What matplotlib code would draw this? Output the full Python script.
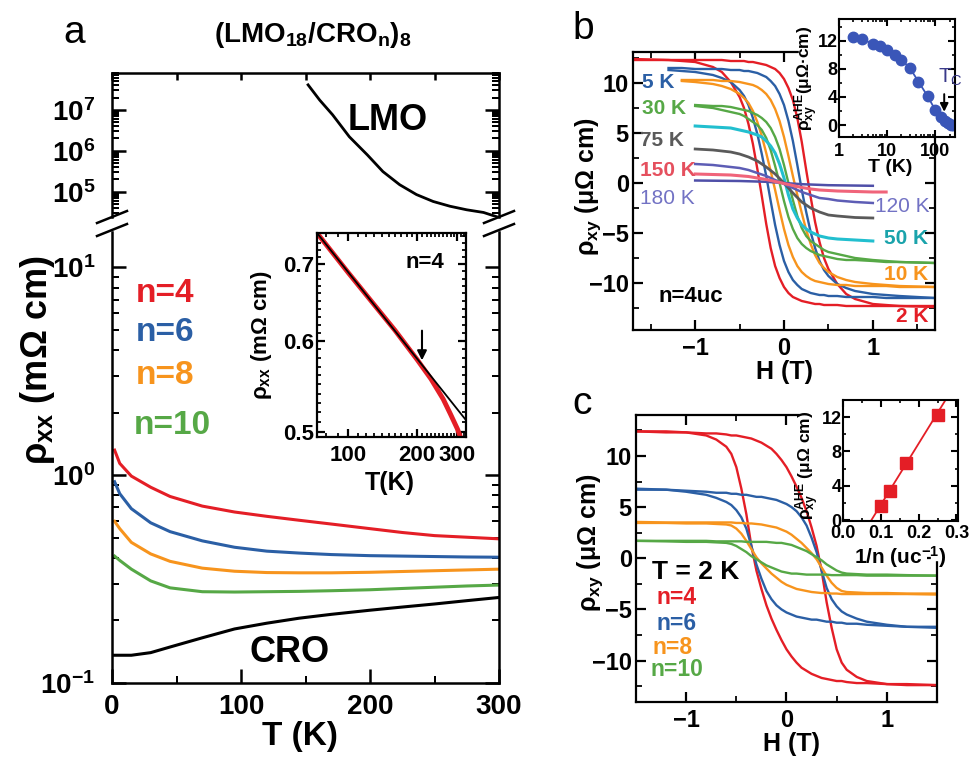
import numpy as np
import matplotlib
matplotlib.use("Agg")
import matplotlib.pyplot as plt
from matplotlib.patches import Rectangle
from matplotlib.lines import Line2D
from matplotlib.ticker import MultipleLocator, FixedLocator, FixedFormatter, NullFormatter, FormatStrFormatter

plt.rcParams['font.family'] = ['Liberation Sans', 'DejaVu Sans']
plt.rcParams['font.weight'] = 'bold'
plt.rcParams['mathtext.fontset'] = 'custom'
plt.rcParams['mathtext.rm'] = 'Liberation Sans:bold'
plt.rcParams['mathtext.it'] = 'Liberation Sans:italic:bold'
plt.rcParams['mathtext.bf'] = 'Liberation Sans:bold'
plt.rcParams['mathtext.default'] = 'regular'
plt.rcParams['xtick.direction'] = 'in'
plt.rcParams['ytick.direction'] = 'in'

RED = '#e41e26'
BLUE = '#2b5fa5'
ORANGE = '#f7941d'
GREEN = '#56a846'
CYAN = '#22bfcf'
GRAY = '#5a5a5a'
SLATE = '#5d5db5'
PINK = '#f0647a'
PURPLE = '#4f4fa8'

# ---- panel a : rho_xx(T)
T_a = [2, 6, 15, 30, 45, 70, 95, 120, 145, 170, 200, 225, 250, 275, 300]
rho_n4 = [1.32, 1.14, 0.99, 0.875, 0.79, 0.71, 0.665, 0.634, 0.607, 0.582, 0.553, 0.53, 0.512, 0.503, 0.494]
rho_n6 = [0.93, 0.815, 0.69, 0.59, 0.535, 0.483, 0.45, 0.431, 0.422, 0.415, 0.41, 0.408, 0.406, 0.404, 0.403]
rho_n8 = [0.60, 0.553, 0.475, 0.418, 0.385, 0.357, 0.345, 0.34, 0.339, 0.339, 0.341, 0.344, 0.347, 0.35, 0.353]
rho_n10 = [0.408, 0.389, 0.353, 0.31, 0.287, 0.275, 0.274, 0.275, 0.276, 0.278, 0.281, 0.285, 0.289, 0.293, 0.296]
rho_cro = [0.136, 0.136, 0.136, 0.14, 0.149, 0.165, 0.182, 0.194, 0.205, 0.214, 0.224, 0.232, 0.24, 0.249, 0.258]
T_lmo = [152, 161, 171, 184, 198, 210, 223, 236, 249, 262, 275, 288, 298]
rho_lmo = [4.1e7, 1.74e7, 7.6e6, 2.2e6, 7.9e5, 3.1e5, 1.48e5, 8.5e4, 5.75e4, 4.4e4, 3.6e4, 3.1e4, 2.45e4]

# inset a (n=4, log-log)
T_in = [73, 100, 130, 160, 200, 230, 260, 280, 300, 308]
rho_in = [0.745, 0.688, 0.645, 0.613, 0.578, 0.556, 0.534, 0.518, 0.503, 0.496]
fit_T = [73, 327]
fit_rho = [0.745, 0.512]
arrow_a = (210, 0.616, 0.574)

# ---- panel b : rho_xy(H), n=4, down-sweep branches of the loops
H_b = [-1.7, -1.3, -1.15, -1.0, -0.8, -0.7, -0.6, -0.5, -0.45, -0.4, -0.35, -0.3, -0.25, -0.2,
       -0.15, -0.1, -0.05, 0.0, 0.05, 0.1, 0.15, 0.2, 0.25, 0.3, 0.35, 0.4, 0.45, 0.5, 0.6, 0.7,
       0.8, 1.0, 1.15, 1.3, 1.7]
down_2K = [12.4, 12.3, 12.2, 12.1, 11.6, 11.1, 10.1, 8.6, 7.5, 5.9, 3.9, 1.4, -1.3, -4.1, -6.5,
           -8.3, -9.5, -10.4, -11.0, -11.4, -11.6, -11.8, -11.9, -12.0, -12.1, -12.1, -12.2, -12.2,
           -12.2, -12.3, -12.3, -12.3, -12.3, -12.3, -12.3]
down_5K = [11.5, 11.3, 11.2, 11.1, 10.8, 10.5, 10.1, 9.3, 8.7, 7.8, 6.5, 4.9, 2.9, 0.7, -1.8,
           -4.2, -6.2, -7.8, -8.9, -9.7, -10.2, -10.6, -10.8, -11.0, -11.1, -11.2, -11.2, -11.3,
           -11.3, -11.4, -11.4, -11.4, -11.5, -11.5, -11.5]
down_10K = [10.4, 10.3, 10.2, 10.1, 9.9, 9.7, 9.4, 8.9, 8.5, 8.0, 7.2, 6.1, 4.7, 3.0, 1.2,
            -0.7, -2.7, -4.6, -6.2, -7.4, -8.3, -8.9, -9.3, -9.6, -9.8, -9.9, -10.0, -10.1,
            -10.2, -10.2, -10.3, -10.3, -10.3, -10.4, -10.4]
down_30K = [8.0, 7.9, 7.8, 7.7, 7.5, 7.3, 7.1, 6.9, 6.7, 6.4, 6.1, 5.8, 5.3, 4.5, 3.3,
            1.7, 0.0, -1.8, -3.4, -4.6, -5.5, -6.1, -6.5, -6.8, -7.0, -7.2, -7.3, -7.4,
            -7.6, -7.7, -7.7, -7.8, -7.9, -7.9, -8.0]
hmin_b = {'2K': -1.7, '5K': -1.3, '10K': -1.15, '30K': -1.0}

H_50K = [-1.0, -0.8, -0.6, -0.5, -0.4, -0.3, -0.25, -0.2, -0.15, -0.1, -0.05, 0.0, 0.05, 0.1,
         0.15, 0.2, 0.25, 0.3, 0.35, 0.4, 0.5, 0.6, 0.8, 1.0]
rho_50K = [5.7, 5.6, 5.5, 5.3, 5.1, 4.8, 4.6, 4.2, 3.7, 3.0, 1.9, 0.5, -1.2, -2.6,
           -3.5, -4.2, -4.6, -4.9, -5.1, -5.3, -5.5, -5.6, -5.7, -5.8]
H_hi = [-1.0, -0.8, -0.6, -0.5, -0.4, -0.3, -0.2, -0.1, 0.0, 0.1, 0.2, 0.3, 0.4, 0.5, 0.6, 0.8, 1.0]
rho_75K = [3.4, 3.3, 3.1, 2.9, 2.6, 2.2, 1.6, 0.9, 0.0, -1.0, -1.9, -2.5, -2.9, -3.2, -3.3, -3.45, -3.5]
rho_120K = [1.9, 1.8, 1.6, 1.5, 1.3, 1.0, 0.7, 0.3, -0.1, -0.5, -0.9, -1.2, -1.5, -1.6, -1.75, -1.9, -2.0]
H_150K = [-1.0, -0.8, -0.6, -0.4, -0.3, -0.2, -0.1, 0.0, 0.1, 0.2, 0.3, 0.4, 0.6, 0.8, 1.0, 1.15]
rho_150K = [0.9, 0.85, 0.8, 0.65, 0.5, 0.35, 0.15, -0.05, -0.25, -0.45, -0.6, -0.7, -0.8, -0.85, -0.9, -0.9]
H_180K = [-1.0, -0.5, -0.2, 0.0, 0.2, 0.5, 1.0]
rho_180K = [0.25, 0.2, 0.12, 0.0, -0.12, -0.22, -0.28]

# inset b : AHE vs T
T_ahe = [2, 3, 5, 7, 10, 15, 20, 30, 45, 70, 100, 130, 160, 185, 210, 235]
rho_ahe = [12.6, 12.2, 11.6, 11.2, 10.7, 10.0, 9.3, 8.1, 6.2, 4.1, 2.2, 1.2, 0.6, 0.25, 0.05, 0.0]
arrow_b = (155, 4.8, 1.5)

# ---- panel c : rho_xy(H) at 2 K, down-sweep branches
H_c = [-1.5, -1.2, -1.0, -0.8, -0.7, -0.6, -0.55, -0.5, -0.45, -0.4, -0.35, -0.3, -0.25, -0.2,
       -0.15, -0.1, -0.05, 0.0, 0.05, 0.1, 0.15, 0.2, 0.25, 0.3, 0.35, 0.4, 0.45, 0.5, 0.55, 0.6,
       0.7, 0.8, 1.0, 1.2, 1.5]
down_n4 = [12.4, 12.4, 12.3, 12.0, 11.6, 10.9, 10.2, 8.9, 6.8, 4.3, 1.2, -1.2, -3.0, -4.6, -5.9,
           -7.0, -8.0, -8.9, -9.6, -10.2, -10.7, -11.0, -11.3, -11.5, -11.7, -11.8, -11.9, -12.0,
           -12.0, -12.1, -12.2, -12.2, -12.3, -12.3, -12.4]
down_n6 = [6.8, 6.7, 6.5, 6.2, 5.9, 5.5, 5.2, 4.7, 4.0, 2.9, 1.2, -0.6, -2.0, -3.2, -4.0,
           -4.6, -5.0, -5.3, -5.5, -5.7, -5.8, -5.9, -6.0, -6.0, -6.1, -6.2, -6.2, -6.3,
           -6.3, -6.4, -6.4, -6.5, -6.6, -6.7, -6.7]
down_n8 = [3.45, 3.45, 3.4, 3.4, 3.35, 3.3, 3.2, 2.9, 2.4, 1.7, 0.9, 0.1, -0.5, -1.0, -1.5,
           -1.9, -2.3, -2.6, -2.8, -3.0, -3.1, -3.2, -3.3, -3.35, -3.4, -3.4, -3.45, -3.45,
           -3.5, -3.5, -3.5, -3.5, -3.5, -3.5, -3.55]
down_n10 = [1.7, 1.65, 1.6, 1.6, 1.55, 1.5, 1.4, 1.2, 0.9, 0.6, 0.2, -0.1, -0.4, -0.7, -0.9,
            -1.1, -1.3, -1.4, -1.5, -1.5, -1.55, -1.6, -1.6, -1.6, -1.6, -1.6, -1.65, -1.65,
            -1.65, -1.65, -1.65, -1.7, -1.7, -1.7, -1.7]

# inset c : AHE vs 1/n
inv_n = [0.25, 0.167, 0.125, 0.1]
ahe_n = [12.3, 6.7, 3.4, 1.7]
fit_inv = [0.075, 0.271]
fit_ahe = [0.0, 14.0]

W, H = 970, 757
fig = plt.figure(figsize=(W / 100, H / 100), dpi=100)


def box(x0, y0, x1, y1, **kw):
    return fig.add_axes([x0 / W, 1 - y1 / H, (x1 - x0) / W, (y1 - y0) / H], **kw)


def ftext(x, y, s, **kw):
    ha = kw.pop('ha', 'center')
    va = kw.pop('va', 'center')
    fig.text(x / W, 1 - y / H, s, ha=ha, va=va, **kw)


def fline(x0, y0, x1, y1, lw=1.8):
    fig.add_artist(Line2D([x0 / W, x1 / W], [1 - y0 / H, 1 - y1 / H], color='k', lw=lw))


def white(x0, y0, x1, y1):
    fig.add_artist(Rectangle((x0 / W, 1 - y1 / H), (x1 - x0) / W, (y1 - y0) / H,
                             transform=fig.transFigure, color='white', zorder=1))


def draw_loop(ax, Hs, down, color, hmin=-9.0, hmax=9.0, lw=1.7):
    Hs = np.asarray(Hs)
    down = np.asarray(down, float)
    up = -down[::-1]
    keep = (Hs >= hmin - 1e-9) & (Hs <= hmax + 1e-9)
    ax.plot(Hs[keep], down[keep], color=color, lw=lw)
    ax.plot(Hs[keep], up[keep], color=color, lw=lw)


def style(ax, lw=1.5, size=17, major=8, minor=4.5):
    for s in ax.spines.values():
        s.set_linewidth(lw)
    ax.tick_params(which='both', top=True, right=True, width=lw, labelsize=size)
    ax.tick_params(which='major', length=major)
    ax.tick_params(which='minor', length=minor, width=lw * 0.8)


# ================= panel a
ax_t = box(112, 73, 499, 217)
ax_b = box(112, 232, 499, 683)
for ax in (ax_t, ax_b):
    ax.set_yscale('log')
    ax.set_xlim(0, 300)
    style(ax, lw=1.8, size=20, major=10, minor=5)
ax_t.set_ylim(2.4e4, 8e7)
ax_b.set_ylim(0.1, 14.8)
ax_t.spines['bottom'].set_visible(False)
ax_b.spines['top'].set_visible(False)
ax_t.xaxis.set_major_locator(MultipleLocator(50))
ax_t.tick_params(axis='x', which='both', bottom=False, top=True, labelbottom=False, length=5)
ax_b.xaxis.set_major_locator(MultipleLocator(100))
ax_b.xaxis.set_minor_locator(MultipleLocator(50))
ax_b.tick_params(axis='x', which='both', top=False, pad=8)
ax_t.tick_params(axis='y', which='both', pad=12)
ax_b.tick_params(axis='y', which='both', pad=12)

ax_t.plot(T_lmo, rho_lmo, color='k', lw=2)
ax_b.plot(T_a, rho_n4, color=RED, lw=2.2)
ax_b.plot(T_a, rho_n6, color=BLUE, lw=2.2)
ax_b.plot(T_a, rho_n8, color=ORANGE, lw=2.2)
ax_b.plot(T_a, rho_n10, color=GREEN, lw=2.2)
ax_b.plot(T_a, rho_cro, color='k', lw=2.2)

# axis break marks
for xc in (112, 499):
    fline(xc - 15, 223, xc + 15, 211)
    fline(xc - 15, 236, xc + 15, 224)

ftext(74, 33, 'a', fontsize=28, fontweight='normal')
ftext(313, 35, '(LMO$_{18}$/CRO$_{n}$)$_{8}$', fontsize=20)
ftext(388, 120, 'LMO', fontsize=26)
ftext(290, 652, 'CRO', fontsize=26)
ftext(136, 293, 'n=4', color=RED, fontsize=24, ha='left')
ftext(136, 333, 'n=6', color=BLUE, fontsize=24, ha='left')
ftext(136, 375, 'n=8', color=ORANGE, fontsize=24, ha='left')
ftext(134, 425, 'n=10', color=GREEN, fontsize=24, ha='left')
ftext(38, 360, 'ρ$_{xx}$ (mΩ cm)', fontsize=26, rotation=90)
ftext(300, 737, 'T (K)', fontsize=24)

# inset a
ax_i = box(317, 233, 466, 437, zorder=2)
ax_i.set_xscale('log')
ax_i.set_yscale('log')
ax_i.plot(T_in, rho_in, color=RED, lw=3.5)
ax_i.plot(fit_T, fit_rho, color='k', lw=1.3)
ax_i.set_xlim(73, 327)
ax_i.set_ylim(0.495, 0.745)
style(ax_i, lw=1.6, size=16, major=6, minor=3)
ax_i.xaxis.set_major_locator(FixedLocator([100, 200, 300]))
ax_i.xaxis.set_major_formatter(FixedFormatter(['100', '200', '300']))
ax_i.xaxis.set_minor_locator(FixedLocator([80, 90] + list(range(110, 200, 10)) + list(range(210, 300, 10)) + [310, 320]))
ax_i.xaxis.set_minor_formatter(NullFormatter())
ax_i.yaxis.set_major_locator(FixedLocator([0.5, 0.6, 0.7]))
ax_i.yaxis.set_major_formatter(FixedFormatter(['0.5', '0.6', '0.7']))
ax_i.yaxis.set_minor_locator(FixedLocator(np.arange(0.50, 0.75, 0.01)))
ax_i.yaxis.set_minor_formatter(NullFormatter())
ax_i.tick_params(axis='y', pad=2)
ax_i.tick_params(axis='x', pad=6)
ax_i.annotate('', xy=(arrow_a[0], arrow_a[2]), xytext=(arrow_a[0], arrow_a[1]),
              arrowprops=dict(arrowstyle='-|>', color='k', lw=1.5, mutation_scale=14))
ftext(425, 262, 'n=4', fontsize=16)
ftext(262, 335, 'ρ$_{xx}$ (mΩ cm)', fontsize=16, rotation=90)
ftext(390, 483, 'T(K)', fontsize=18)

# ================= panel b
axb = box(633, 52, 935, 330)
axb.set_xlim(-1.7, 1.7)
axb.set_ylim(-14.7, 13.1)
style(axb, lw=1.6, size=17, major=7, minor=4)
axb.xaxis.set_major_locator(MultipleLocator(1))
axb.xaxis.set_minor_locator(MultipleLocator(0.5))
axb.yaxis.set_major_locator(MultipleLocator(5))
axb.yaxis.set_minor_locator(MultipleLocator(2.5))
axb.tick_params(axis='y', pad=3)
axb.tick_params(axis='x', pad=5)

draw_loop(axb, H_b, down_2K, RED, hmin_b['2K'])
draw_loop(axb, H_b, down_5K, BLUE, hmin_b['5K'])
draw_loop(axb, H_b, down_10K, ORANGE, hmin_b['10K'])
draw_loop(axb, H_b, down_30K, GREEN, hmin_b['30K'])
axb.plot(H_50K, rho_50K, color=CYAN, lw=2.2)
axb.plot(H_hi, rho_75K, color=GRAY, lw=2)
axb.plot(H_hi, rho_120K, color=SLATE, lw=1.8)
axb.plot(H_180K, rho_180K, color=PURPLE, lw=1.8)
axb.plot(H_150K, rho_150K, color=PINK, lw=2.2)

ftext(583, 29, 'b', fontsize=28, fontweight='normal')
ftext(588, 187, 'ρ$_{xy}$ (μΩ cm)', fontsize=18, rotation=90)
ftext(785, 372, 'H (T)', fontsize=18)
ftext(642, 83, '5 K', color=BLUE, fontsize=15, ha='left')
ftext(642, 109, '30 K', color=GREEN, fontsize=15, ha='left')
ftext(640, 140, '75 K', color=GRAY, fontsize=15, ha='left')
ftext(640, 170, '150 K', color='#e5505e', fontsize=15, ha='left')
ftext(640, 199, '180 K', color='#7272c4', fontsize=15, ha='left', fontweight='normal')
ftext(930, 207, '120 K', color='#7272c4', fontsize=15, ha='right', fontweight='normal')
ftext(928, 239, '50 K', color='#1aa3ab', fontsize=15, ha='right')
ftext(928, 274, '10 K', color=ORANGE, fontsize=15, ha='right')
ftext(928, 317, '2 K', color=RED, fontsize=15, ha='right')
ftext(658, 296, 'n=4uc', fontsize=16, ha='left')

# inset b
white(799, 47, 841, 57)
axbi = box(839, 19, 955, 137, zorder=2)
axbi.set_xscale('log')
axbi.plot(T_ahe, rho_ahe, 'o-', color='#3a56b8', ms=7.5, lw=1.3)
axbi.set_xlim(1, 260)
axbi.set_ylim(-1.7, 15.1)
style(axbi, lw=1.5, size=13, major=5, minor=2.5)
axbi.yaxis.set_major_locator(MultipleLocator(4))
axbi.yaxis.set_minor_locator(MultipleLocator(2))
axbi.xaxis.set_major_formatter(FixedFormatter(['1', '10', '100']))
axbi.xaxis.set_major_locator(FixedLocator([1, 10, 100]))
axbi.xaxis.set_minor_formatter(NullFormatter())
axbi.tick_params(axis='y', pad=1)
axbi.tick_params(axis='x', pad=4)
axbi.annotate('', xy=(arrow_b[0], arrow_b[2]), xytext=(arrow_b[0], arrow_b[1]),
              arrowprops=dict(arrowstyle='-|>', color='k', lw=1.4, mutation_scale=12))
ftext(950, 77, 'T$_{C}$', color='#3a3a8a', fontsize=15, fontweight='normal')
ftext(807, 78, 'ρ$_{xy}^{AHE}$(μΩ·cm)', fontsize=12.5, rotation=90)
ftext(890, 167, 'T (K)', fontsize=14)

# ================= panel c
axc = box(636, 415, 937, 702)
axc.set_xlim(-1.5, 1.5)
axc.set_ylim(-14.05, 14.0)
style(axc, lw=1.6, size=17, major=7, minor=4)
axc.xaxis.set_major_locator(MultipleLocator(1))
axc.xaxis.set_minor_locator(MultipleLocator(0.5))
axc.yaxis.set_major_locator(MultipleLocator(5))
axc.yaxis.set_minor_locator(MultipleLocator(2.5))
axc.tick_params(axis='y', pad=3)
axc.tick_params(axis='x', pad=5)

draw_loop(axc, H_c, down_n4, RED)
draw_loop(axc, H_c, down_n6, BLUE)
draw_loop(axc, H_c, down_n8, ORANGE)
draw_loop(axc, H_c, down_n10, GREEN)

ftext(582, 404, 'c', fontsize=28, fontweight='normal')
ftext(590, 543, 'ρ$_{xy}$ (μΩ cm)', fontsize=18, rotation=90)
ftext(792, 744, 'H (T)', fontsize=18)
ftext(652, 572, 'T = 2 K', fontsize=19, ha='left')
ftext(656, 598, 'n=4', color=RED, fontsize=16.5, ha='left')
ftext(656, 623, 'n=6', color=BLUE, fontsize=16.5, ha='left')
ftext(653, 647, 'n=8', color=ORANGE, fontsize=16.5, ha='left')
ftext(651, 670, 'n=10', color=GREEN, fontsize=16.5, ha='left')

# inset c
white(800, 411, 845, 420)
white(931, 519, 942, 560)
axci = box(843, 400, 958, 521, zorder=2)
axci.plot(fit_inv, fit_ahe, color=RED, lw=1.3)
axci.plot(inv_n, ahe_n, 's', color=RED, ms=8)
axci.set_xlim(0, 0.304)
axci.set_ylim(-0.1, 14.0)
style(axci, lw=1.5, size=13, major=5, minor=2.5)
axci.xaxis.set_major_locator(MultipleLocator(0.1))
axci.xaxis.set_minor_locator(MultipleLocator(0.05))
axci.xaxis.set_major_formatter(FormatStrFormatter('%.1f'))
axci.yaxis.set_major_locator(MultipleLocator(4))
axci.yaxis.set_minor_locator(MultipleLocator(2))
axci.tick_params(axis='y', pad=1)
axci.tick_params(axis='x', pad=3)
ftext(808, 465, 'ρ$_{xy}^{AHE}$ (μΩ cm)', fontsize=12.5, rotation=90)
ftext(900, 557, '1/n (uc$^{-1}$)', fontsize=15)

fig.savefig('out.png', dpi=100)
